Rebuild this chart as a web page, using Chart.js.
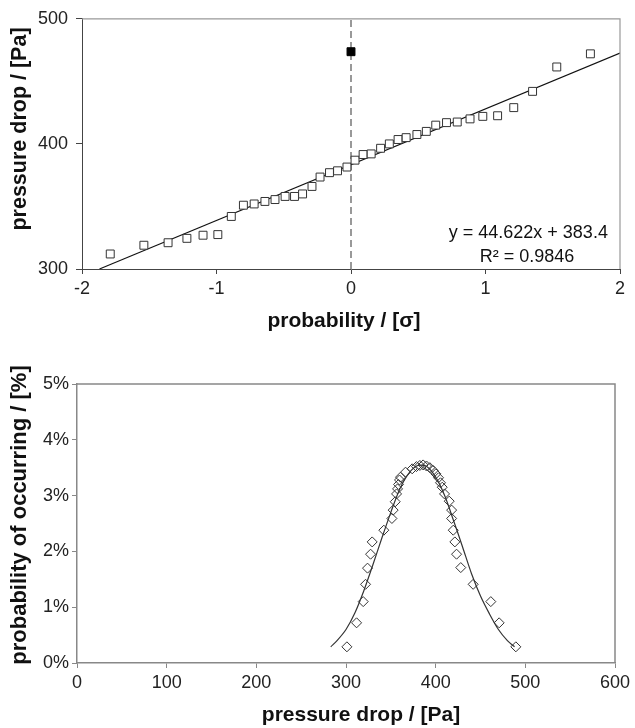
<!DOCTYPE html>
<html>
<head>
<meta charset="utf-8">
<script src="https://cdn.jsdelivr.net/npm/chart.js@4/dist/chart.umd.min.js"></script>
<style>
  html, body { margin: 0; padding: 0; background: #fff; }
  #wrap { position: relative; width: 635px; height: 728px; }
  canvas { position: absolute; left: 0; }
  #c1 { top: 0; }
  #c2 { top: 345px; }
</style>
</head>
<body>
<div id="wrap">
  <canvas id="c1" width="635" height="345"></canvas>
  <canvas id="c2" width="635" height="383"></canvas>
</div>
<script>
// ---------- Top chart data: normal probability plot ----------
const probX = [-1.79, -1.54, -1.36, -1.22, -1.10, -0.99, -0.89, -0.80, -0.72, -0.64, -0.565, -0.49, -0.42, -0.36, -0.29, -0.23, -0.16, -0.10, -0.03, 0.03, 0.09, 0.15, 0.22, 0.285, 0.35, 0.41, 0.49, 0.56, 0.63, 0.71, 0.79, 0.885, 0.98, 1.09, 1.21, 1.35, 1.53, 1.78];
const probY = [312, 319, 321, 324.5, 327, 327.5, 342, 351, 352, 354, 355.5, 358, 358, 360, 366, 373.5, 377, 378.5, 381.5, 387, 391.5, 392, 396.5, 400, 403.5, 405, 407.5, 410, 415, 417, 417.5, 420, 422, 422.5, 429, 442, 461.5, 472];
const outlierX = [0];
const outlierY = [473.7];
const fitX = [-1.87, 2];
const fitY = [300, 472.6];
const meanLineX = [0, 0];
const meanLineY = [300, 500];
const topXTicks = [-2, -1, 0, 1, 2];
const topYTicks = [300, 400, 500];
const eqText = 'y = 44.622x + 383.4';
const r2Text = 'R\u00B2 = 0.9846';
const topXTitle = 'probability / [\u03C3]';
const topYTitle = 'pressure drop / [Pa]';

// ---------- Bottom chart data: distribution ----------
const distX = [301, 311.8, 319.2, 321.8, 324, 327.4, 329.2, 342.2, 351.2, 352.6, 354.9, 356.4, 357.5, 358.6, 359.7, 360.8, 366.4, 373.8, 378.6, 382.4, 386, 389.8, 393.5, 397.2, 400.2, 403.2, 405.4, 407.3, 409.9, 415.1, 417.8, 417.8, 419.6, 421.4, 423.3, 428, 441.8, 461.5, 470.8, 489.4];
const distY = [0.29, 0.72, 1.10, 1.41, 1.70, 1.95, 2.17, 2.38, 2.59, 2.74, 2.89, 3.03, 3.12, 3.20, 3.28, 3.33, 3.42, 3.48, 3.52, 3.54, 3.55, 3.53, 3.50, 3.45, 3.39, 3.32, 3.23, 3.15, 3.03, 2.90, 2.74, 2.59, 2.38, 2.17, 1.95, 1.71, 1.41, 1.10, 0.72, 0.29];
const curveX = [283, 290, 300, 310, 320, 330, 340, 350, 360, 370, 380, 390, 400, 410, 420, 430, 440, 450, 460, 470, 480, 488];
const curveY = [0.29, 0.40, 0.60, 0.90, 1.30, 1.76, 2.24, 2.70, 3.12, 3.40, 3.54, 3.52, 3.33, 3.00, 2.55, 2.08, 1.60, 1.20, 0.88, 0.60, 0.40, 0.29];
const botXTicks = [0, 100, 200, 300, 400, 500, 600];
const botYTicks = [0, 1, 2, 3, 4, 5];
const botXTitle = 'pressure drop / [Pa]';
const botYTitle = 'probability of occurring / [%]';

const FONT = "'Liberation Sans', Arial, Helvetica, sans-serif";
Chart.defaults.font.family = FONT;
Chart.defaults.color = '#222';

const pts = (xs, ys) => xs.map((x, i) => ({x: x, y: ys[i]}));

const boxPlugin = (color, width) => ({
  id: 'box',
  afterDraw(chart) {
    const {ctx, chartArea: a} = chart;
    ctx.save();
    ctx.strokeStyle = color;
    ctx.lineWidth = width;
    ctx.beginPath();
    ctx.moveTo(a.left, a.top);
    ctx.lineTo(a.right, a.top);
    ctx.lineTo(a.right, a.bottom);
    ctx.stroke();
    ctx.restore();
  }
});

// axis titles placed like the original (Excel) layout
const titlePlugin = (items) => ({
  id: 'axisTitles',
  afterDraw(chart) {
    const {ctx} = chart;
    ctx.save();
    ctx.fillStyle = '#111';
    ctx.textAlign = 'center';
    ctx.textBaseline = 'middle';
    items.forEach(t => {
      ctx.font = 'bold ' + t.size + 'px ' + FONT;
      ctx.save();
      ctx.translate(t.x, t.y);
      if (t.rot) ctx.rotate(-Math.PI / 2);
      ctx.fillText(t.text, 0, 0);
      ctx.restore();
    });
    ctx.restore();
  }
});

const eqPlugin = {
  id: 'eq',
  afterDraw(chart) {
    const {ctx, scales} = chart;
    ctx.save();
    ctx.fillStyle = '#111';
    ctx.font = '18px ' + FONT;
    ctx.textAlign = 'right';
    ctx.textBaseline = 'middle';
    ctx.fillText(eqText, scales.x.getPixelForValue(1.91), scales.y.getPixelForValue(328.7));
    ctx.fillText(r2Text, scales.x.getPixelForValue(1.66), scales.y.getPixelForValue(309.6));
    ctx.restore();
  }
};

new Chart(document.getElementById('c1'), {
  type: 'scatter',
  data: {
    datasets: [
      { label: 'data', data: pts(probX, probY), pointStyle: 'rect', pointRadius: 5.6,
        backgroundColor: '#fff', borderColor: '#333', borderWidth: 1, showLine: false },
      { label: 'outlier', data: pts(outlierX, outlierY), pointStyle: 'rect', pointRadius: 5.6,
        backgroundColor: '#000', borderColor: '#000', borderWidth: 1, showLine: false },
      { label: 'fit', data: pts(fitX, fitY), showLine: true, pointRadius: 0,
        borderColor: '#111', borderWidth: 1.1 },
      { label: 'mean', data: pts(meanLineX, meanLineY), showLine: true, pointRadius: 0,
        borderColor: '#555', borderWidth: 1.2, borderDash: [7, 4] }
    ]
  },
  options: {
    responsive: false, animation: false,
    layout: { padding: { top: 18, right: 15, left: 0, bottom: 0 } },
    plugins: { legend: { display: false }, tooltip: { enabled: false } },
    scales: {
      x: {
        type: 'linear', min: -2, max: 2,
        afterBuildTicks: s => { s.ticks = topXTicks.map(v => ({value: v})); },
        ticks: { font: { size: 18 }, color: '#222', padding: 4, maxRotation: 0 },
        grid: { drawOnChartArea: false, tickLength: 5, color: '#444' },
        border: { color: '#444', width: 1 },
        afterFit: s => { s.height = 76; }
      },
      y: {
        type: 'linear', min: 300, max: 500,
        afterBuildTicks: s => { s.ticks = topYTicks.map(v => ({value: v})); },
        ticks: { font: { size: 18 }, color: '#222', padding: 8 },
        grid: { drawOnChartArea: false, tickLength: 6, color: '#444' },
        border: { color: '#444', width: 1 },
        afterFit: s => { s.width = 82; }
      }
    }
  },
  plugins: [boxPlugin('#999', 1.2), eqPlugin, titlePlugin([
    { text: topXTitle, x: 344, y: 321, size: 21, rot: false },
    { text: topYTitle, x: 20, y: 129, size: 21.5, rot: true }
  ])]
});

new Chart(document.getElementById('c2'), {
  type: 'scatter',
  data: {
    datasets: [
      { label: 'measured', data: pts(distX, distY), pointStyle: 'rectRot', pointRadius: 5,
        backgroundColor: 'rgba(255,255,255,0)', borderColor: '#333', borderWidth: 1, showLine: false },
      { label: 'normal', data: pts(curveX, curveY), showLine: true, pointRadius: 0,
        borderColor: '#333', borderWidth: 1.2, tension: 0.3 }
    ]
  },
  options: {
    responsive: false, animation: false,
    layout: { padding: { top: 39, right: 20, left: 0, bottom: 0 } },
    plugins: { legend: { display: false }, tooltip: { enabled: false } },
    scales: {
      x: {
        type: 'linear', min: 0, max: 600,
        afterBuildTicks: s => { s.ticks = botXTicks.map(v => ({value: v})); },
        ticks: { font: { size: 18 }, color: '#222', padding: 4, maxRotation: 0 },
        grid: { drawOnChartArea: false, tickLength: 5, color: '#888' },
        border: { color: '#888', width: 1.5 },
        afterFit: s => { s.height = 65; }
      },
      y: {
        type: 'linear', min: 0, max: 5,
        afterBuildTicks: s => { s.ticks = botYTicks.map(v => ({value: v})); },
        ticks: { font: { size: 18 }, color: '#222', padding: 3, callback: v => v + '%' },
        grid: { drawOnChartArea: false, tickLength: 5, color: '#888' },
        border: { color: '#888', width: 1.5 },
        afterFit: s => { s.width = 77; }
      }
    }
  },
  plugins: [boxPlugin('#888', 1.5), titlePlugin([
    { text: botXTitle, x: 361, y: 370, size: 21, rot: false },
    { text: botYTitle, x: 20, y: 170, size: 22, rot: true }
  ])]
});
</script>
</body>
</html>
